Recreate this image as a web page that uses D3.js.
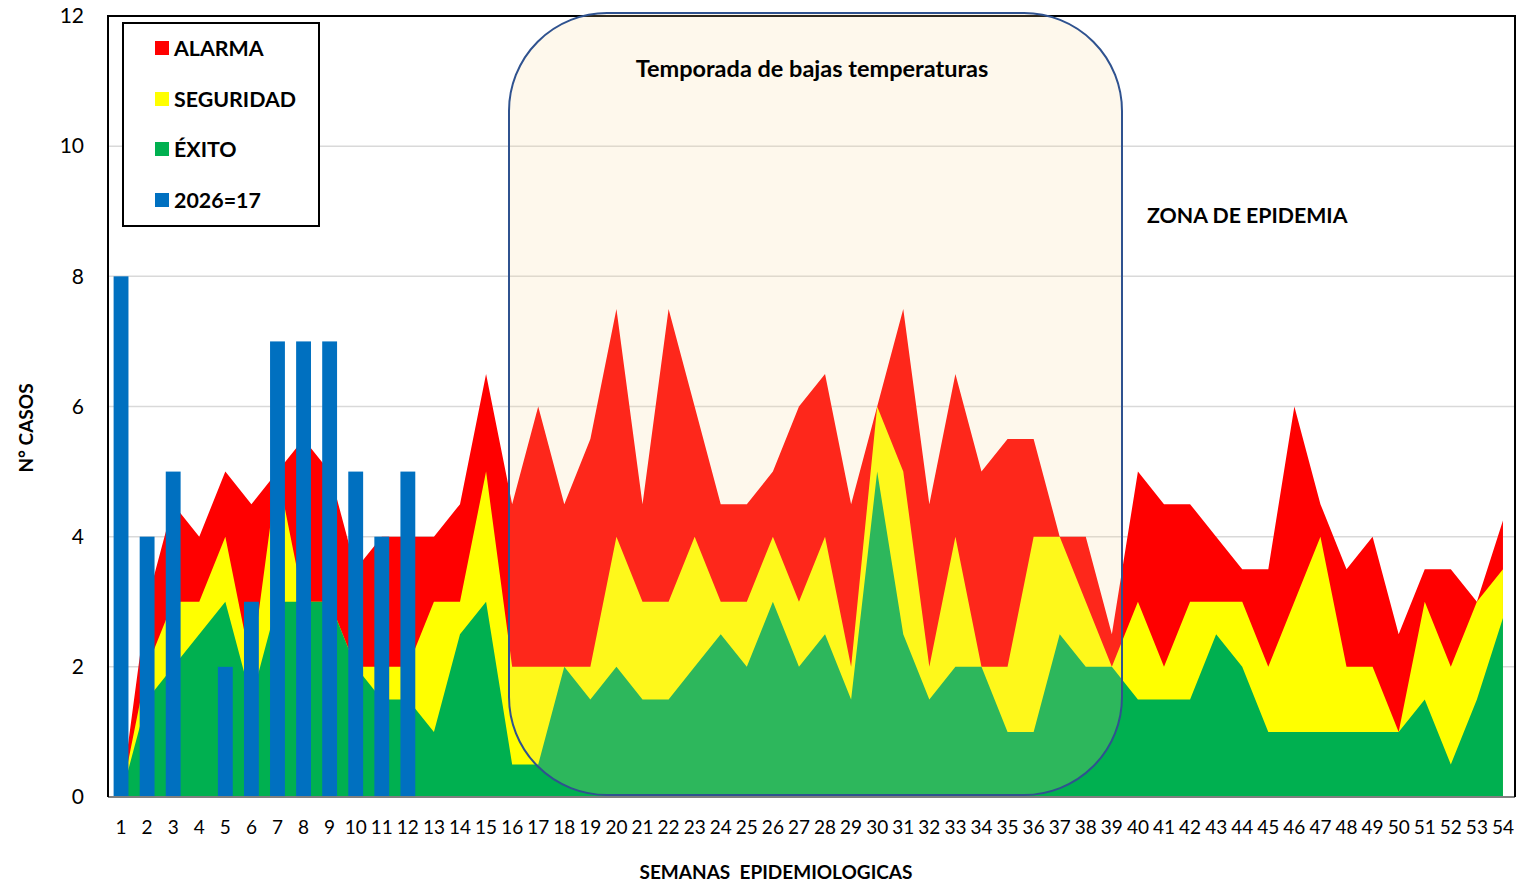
<!DOCTYPE html>
<html>
<head>
<meta charset="utf-8">
<script src="https://cdn.jsdelivr.net/npm/d3@7"></script>
<style>
  html, body { margin: 0; padding: 0; background: #fff; }
  svg { display: block; font-family: Lato, "Open Sans", sans-serif; }
</style>
</head>
<body>
<svg id="chart" width="1527" height="886"></svg>
<script>
// ---- DATA ----
const weeks = d3.range(1, 55);
const exito = [0,1.5,2,2.5,3,1.5,3,3,3,2,1.5,1.5,1,2.5,3,0.5,0.5,2,1.5,2,1.5,1.5,2,2.5,2,3,2,2.5,1.5,5,2.5,1.5,2,2,1,1,2.5,2,2,1.5,1.5,1.5,2.5,2,1,1,1,1,1,1,1.5,0.5,1.5,2.75];
const seguridad = [0,2,3,3,4,2,5,3,3,2,2,2,3,3,5,2,2,2,2,4,3,3,4,3,3,4,3,4,2,6,5,2,4,2,2,4,4,3,2,3,2,3,3,3,2,3,4,2,2,1,3,2,3,3.5];
const alarma = [0,3,4.5,4,5,4.5,5,5.5,5,3.5,4,4,4,4.5,6.5,4.5,6,4.5,5.5,7.5,4.5,7.5,6,4.5,4.5,5,6,6.5,4.5,6,7.5,4.5,6.5,5,5.5,5.5,4,4,2.5,5,4.5,4.5,4,3.5,3.5,6,4.5,3.5,4,2.5,3.5,3.5,3,4.25];
const casos2026 = [8,4,5,null,2,3,7,7,7,5,4,5];
const yTicks = [0,2,4,6,8,10,12];
const legendLabels = ["ALARMA","SEGURIDAD","ÉXITO","2026=17"];
const colors = {alarma:"#FF0000", seguridad:"#FFFF00", exito:"#00B050", casos:"#0070C0"};

// ---- LAYOUT ----
const svg = d3.select("#chart");
const L = 108, R = 1516, T = 16, B = 797;

const x = d3.scaleBand().domain(weeks).range([L, R]);
const cx = w => x(w) + x.bandwidth() / 2;
const y = d3.scaleLinear().domain([0, 12]).range([B, T]);

// grid
svg.append("g").selectAll("line").data(yTicks.filter(d => d > 0)).join("line")
  .attr("x1", L).attr("x2", R - 1)
  .attr("y1", d => y(d)).attr("y2", d => y(d))
  .attr("stroke", "#D9D9D9").attr("stroke-width", 1.5);

// areas (overlapping, back to front)
const series = [
  {vals: alarma, color: colors.alarma},
  {vals: seguridad, color: colors.seguridad},
  {vals: exito, color: colors.exito}
];
const area = d3.area().x(d => cx(d.w)).y0(y(0)).y1(d => y(d.v));
series.forEach(s => {
  svg.append("path")
    .datum(weeks.map((w, i) => ({w, v: s.vals[i]})))
    .attr("d", area)
    .attr("fill", s.color);
});

// bars
const barW = x.bandwidth() * 0.57;
svg.append("g").selectAll("rect")
  .data(casos2026.map((v, i) => ({w: weeks[i], v})).filter(d => d.v != null))
  .join("rect")
  .attr("x", d => cx(d.w) - barW / 2)
  .attr("width", barW)
  .attr("y", d => y(d.v))
  .attr("height", d => y(0) - y(d.v))
  .attr("fill", colors.casos);

// frame
svg.append("line").attr("x1", L).attr("x2", R - 1).attr("y1", B).attr("y2", B)
  .attr("stroke", "#7F7F7F").attr("stroke-width", 2);
svg.append("path")
  .attr("d", `M${L},${B} V${T} H${R - 1} V${B}`)
  .attr("fill", "none").attr("stroke", "#000").attr("stroke-width", 2);

// y axis
const yAxis = svg.append("g").attr("transform", `translate(${L},0)`)
  .call(d3.axisLeft(y).tickValues(yTicks).tickSize(0).tickPadding(24).tickFormat(d3.format("d")));
yAxis.select(".domain").remove();
yAxis.selectAll("text").attr("font-size", 21).attr("font-family", "Lato, sans-serif").attr("fill", "#000");

// x axis
const xAxis = svg.append("g").attr("transform", `translate(0,${B})`)
  .call(d3.axisBottom(x).tickSize(0).tickPadding(24));
xAxis.select(".domain").remove();
xAxis.selectAll("text").attr("font-size", 19).attr("font-family", "Lato, sans-serif").attr("fill", "#000");

// axis titles
svg.append("text")
  .attr("transform", "translate(25,428) rotate(-90)")
  .attr("text-anchor", "middle").attr("dominant-baseline", "central")
  .attr("font-weight", "bold").attr("font-size", 19)
  .text("N° CASOS");
svg.append("text")
  .attr("x", 776).attr("y", 871)
  .attr("text-anchor", "middle").attr("dominant-baseline", "central")
  .attr("font-weight", "bold").attr("font-size", 19)
  .style("white-space", "pre")
  .text("SEMANAS  EPIDEMIOLOGICAS");

// legend
const lg = svg.append("g");
lg.append("rect").attr("x", 123).attr("y", 23).attr("width", 196).attr("height", 203)
  .attr("fill", "#fff").attr("stroke", "#000").attr("stroke-width", 2);
const legColors = [colors.alarma, colors.seguridad, colors.exito, colors.casos];
const legY = [48, 99, 149, 200];
legendLabels.forEach((lab, i) => {
  lg.append("rect").attr("x", 155).attr("y", legY[i] - 7).attr("width", 14).attr("height", 14)
    .attr("fill", legColors[i]);
  lg.append("text").attr("x", 174).attr("y", legY[i]).attr("dominant-baseline", "central")
    .attr("font-weight", "bold").attr("font-size", 21.4).text(lab);
});

// cold season box
svg.append("rect")
  .attr("x", 509).attr("y", 13).attr("width", 613).attr("height", 782)
  .attr("rx", 98).attr("ry", 98)
  .attr("fill", "rgb(250,216,150)").attr("fill-opacity", 0.18)
  .attr("stroke", "#2F528F").attr("stroke-width", 2);
svg.append("text")
  .attr("x", 812).attr("y", 68)
  .attr("text-anchor", "middle").attr("dominant-baseline", "central")
  .attr("font-weight", "bold").attr("font-size", 23.5)
  .text("Temporada de bajas temperaturas");

svg.append("text")
  .attr("x", 1147).attr("y", 215).attr("dominant-baseline", "central")
  .attr("font-weight", "bold").attr("font-size", 21.3)
  .text("ZONA DE EPIDEMIA");
</script>
</body>
</html>
